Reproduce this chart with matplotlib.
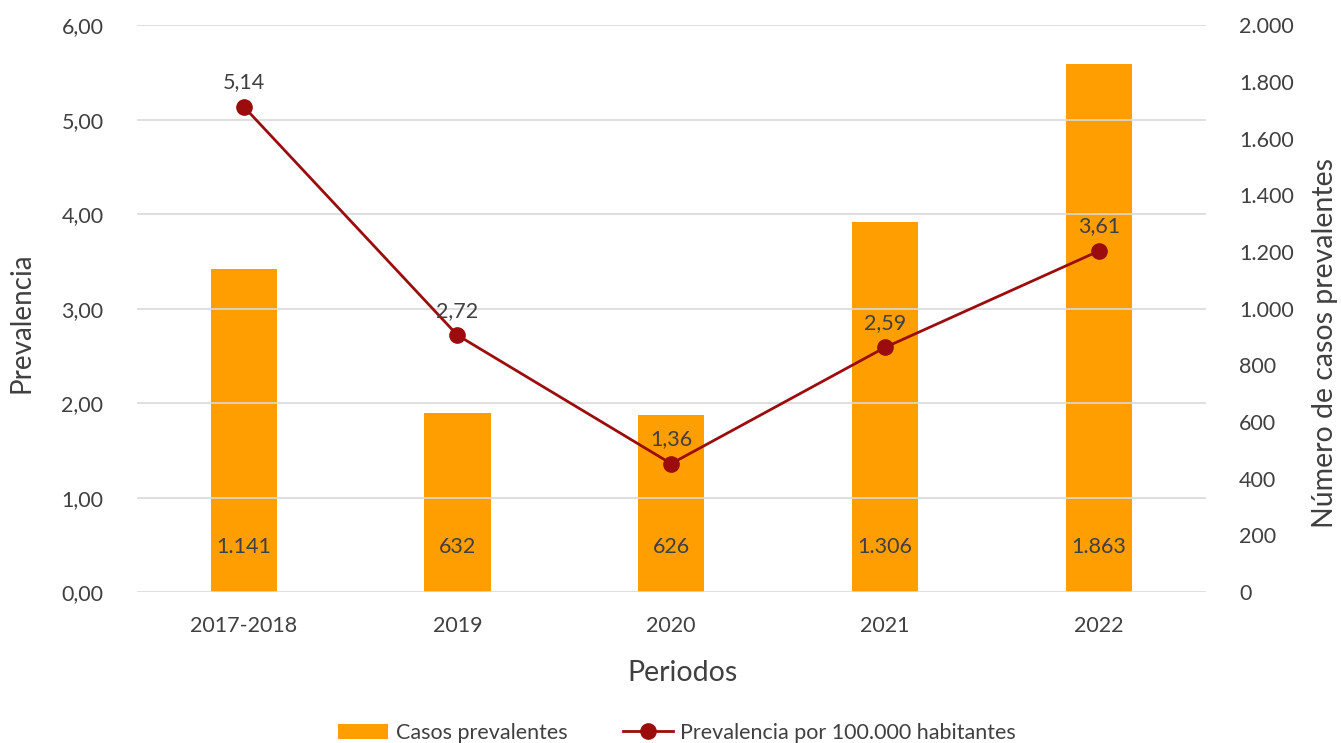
import matplotlib
matplotlib.use("Agg")
import matplotlib.pyplot as plt
from matplotlib.lines import Line2D
from matplotlib.patches import Patch

periodos = ["2017-2018", "2019", "2020", "2021", "2022"]
casos = [1141, 632, 626, 1306, 1863]
prevalencia = [5.14, 2.72, 1.36, 2.59, 3.61]

bar_color = "#FF9E00"
line_color = "#9B0D0D"
text_color = "#404040"
grid_color = "#D9D9D9"

plt.rcParams["font.family"] = ["Lato", "DejaVu Sans"]

fig = plt.figure(figsize=(13.41, 7.43), dpi=100)
ax = fig.add_axes([0.102, 0.203, 0.797, 0.763])
ax2 = ax.twinx()

x = list(range(len(periodos)))
fs = 15.5

# bars on the secondary (right) axis
ax2.bar(x, casos, width=0.31, color=bar_color, zorder=2)
ax2.set_ylim(0, 2000)
ax2.set_yticks(range(0, 2001, 200))
ax2.set_yticklabels([f"{v:,}".replace(",", ".") for v in range(0, 2001, 200)])
for xi, v in zip(x, casos):
    ax2.text(xi, 160, f"{v:,}".replace(",", "."), ha="center", va="center",
             fontsize=fs, color=text_color)

# line on the primary (left) axis, drawn above the bars
ax.set_zorder(ax2.get_zorder() + 1)
ax.patch.set_visible(False)
ax.plot(x, prevalencia, color=line_color, linewidth=2, marker="o",
        markersize=11, zorder=3)
for xi, v in zip(x, prevalencia):
    ax.text(xi, v + 0.26, f"{v:.2f}".replace(".", ","), ha="center",
            va="center", fontsize=fs, color=text_color)

ax.set_ylim(0, 6)
ax.set_yticks(range(0, 7))
ax.set_yticklabels([f"{v},00" for v in range(0, 7)])
ax.set_xlim(-0.5, len(periodos) - 0.5)
ax.set_xticks(x)
ax.set_xticklabels(periodos)

ax2.grid(False)
for yv in range(0, 7):
    ax.axhline(yv, color=grid_color, linewidth=1.2, zorder=0)
ax.set_axisbelow(True)

for a in (ax, ax2):
    for s in a.spines.values():
        s.set_visible(False)
    a.tick_params(length=0, labelsize=fs, colors=text_color)
ax.tick_params(axis="y", pad=24)
ax.tick_params(axis="x", pad=17)
ax2.tick_params(axis="y", pad=24)

ax.set_ylabel("Prevalencia", fontsize=20, color=text_color,
              va="center", ha="center")
ax.yaxis.set_label_coords(-0.108, 0.476)
ax2.set_ylabel("Número de casos prevalentes", fontsize=20.5, color=text_color,
               va="center", ha="center")
ax2.yaxis.set_label_coords(1.112, 0.439)
ax.set_xlabel("Periodos", fontsize=20.5, color=text_color,
              va="center", ha="center")
ax.xaxis.set_label_coords(0.511, -0.143)

handles = [
    Patch(facecolor=bar_color, edgecolor="none", label="Casos prevalentes"),
    Line2D([0], [0], color=line_color, linewidth=2, marker="o", markersize=11,
           label="Prevalencia por 100.000 habitantes"),
]
fig.legend(handles=handles, loc="center", bbox_to_anchor=(0.505, 0.014),
           ncol=2, frameon=False, fontsize=fs, labelcolor=text_color,
           handlelength=2.3, columnspacing=2.6, handletextpad=0.35)

fig.savefig("out.png", dpi=100)
